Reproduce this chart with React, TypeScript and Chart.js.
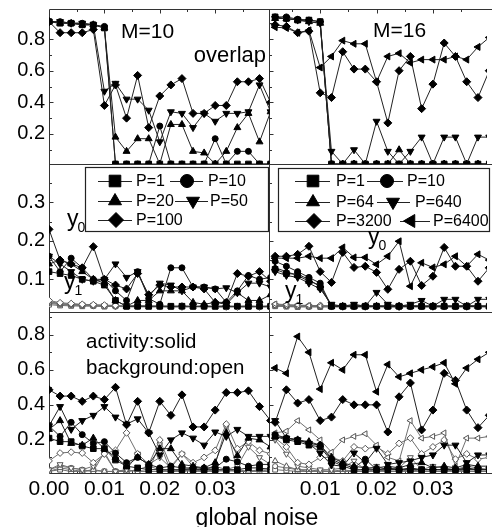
import React, { useEffect, useRef } from 'react';
import { Chart, registerables } from 'chart.js';
import { drawPoint } from 'chart.js/helpers';

Chart.register(...registerables);

// ---------- data ----------
const noiseLeft = [0, 0.002, 0.004, 0.006, 0.008, 0.01, 0.012, 0.014, 0.016, 0.018, 0.02, 0.022, 0.024, 0.026, 0.028, 0.03, 0.032, 0.034, 0.036, 0.038, 0.04];
const noiseRight = [0.002, 0.004, 0.006, 0.008, 0.01, 0.012, 0.014, 0.016, 0.018, 0.02, 0.022, 0.024, 0.026, 0.028, 0.03, 0.032, 0.034, 0.036, 0.038, 0.04];

const labelsM10 = ['P=1', 'P=10', 'P=20', 'P=50', 'P=100'];
const labelsM16 = ['P=1', 'P=10', 'P=64', 'P=640', 'P=3200', 'P=6400'];

const xTicksLeft = [0, 0.01, 0.02, 0.03];
const xTicksRight = [0.01, 0.02, 0.03];
const xMinorTicks = [0.005, 0.015, 0.025, 0.035];
const yTicksTop = [0.2, 0.4, 0.6, 0.8];
const yMinorTop = [0.1, 0.3, 0.5, 0.7, 0.9];
const yTicksMid = [0.1, 0.2, 0.3];
const yMinorMid = [0.05, 0.15, 0.25, 0.35];
const yTicksBot = [0.2, 0.4, 0.6, 0.8];
const yMinorBot = [0.1, 0.3, 0.5, 0.7, 0.9];

// overlap, M=10
const ovM10_P1 = [0.91, 0.90, 0.90, 0.89, 0.89, 0.87, 0.01, 0.01, 0.01, 0.01, 0.01, 0.01, 0.01, 0.01, 0.01, 0.01, 0.01, 0.01, 0.01, 0.01, 0.01];
const ovM10_P10 = [0.91, 0.91, 0.90, 0.90, 0.89, 0.88, 0.01, 0.01, 0.01, 0.01, 0.25, 0.01, 0.01, 0.01, 0.01, 0.17, 0.01, 0.09, 0.09, 0.01, 0.01];
const ovM10_P20 = [0.91, 0.90, 0.90, 0.89, 0.89, 0.87, 0.18, 0.09, 0.17, 0.17, 0.01, 0.26, 0.26, 0.09, 0.08, 0.01, 0.09, 0.24, 0.33, 0.15, 0.34];
const ovM10_P50 = [0.91, 0.91, 0.90, 0.90, 0.89, 0.47, 0.52, 0.42, 0.42, 0.35, 0.15, 0.34, 0.33, 0.24, 0.33, 0.28, 0.33, 0.33, 0.34, 0.51, 0.34];
const ovM10_P100 = [0.91, 0.84, 0.84, 0.84, 0.86, 0.38, 0.51, 0.30, 0.57, 0.24, 0.44, 0.51, 0.55, 0.33, 0.33, 0.38, 0.38, 0.53, 0.53, 0.55, 0.40];

// overlap, M=16
const ovM16_P1 = [0.94, 0.93, 0.92, 0.92, 0.91, 0.01, 0.01, 0.01, 0.01, 0.01, 0.01, 0.01, 0.01, 0.01, 0.01, 0.01, 0.01, 0.01, 0.01, 0.01];
const ovM16_P10 = [0.94, 0.94, 0.925, 0.92, 0.91, 0.01, 0.01, 0.01, 0.01, 0.01, 0.01, 0.01, 0.01, 0.01, 0.01, 0.01, 0.01, 0.01, 0.01, 0.01];
const ovM16_P64 = [0.93, 0.93, 0.92, 0.91, 0.90, 0.01, 0.01, 0.01, 0.01, 0.01, 0.01, 0.10, 0.01, 0.01, 0.01, 0.01, 0.01, 0.01, 0.01, 0.01];
const ovM16_P640 = [0.93, 0.93, 0.92, 0.91, 0.90, 0.09, 0.01, 0.10, 0.01, 0.28, 0.09, 0.01, 0.09, 0.18, 0.01, 0.18, 0.18, 0.01, 0.18, 0.18];
const ovM16_P3200 = [0.89, 0.88, 0.84, 0.85, 0.46, 0.43, 0.72, 0.61, 0.61, 0.53, 0.27, 0.60, 0.69, 0.36, 0.515, 0.775, 0.69, 0.53, 0.43, 0.60];
const ovM16_P6400 = [0.875, 0.87, 0.84, 0.855, 0.62, 0.69, 0.79, 0.77, 0.77, 0.53, 0.69, 0.71, 0.65, 0.67, 0.67, 0.67, 0.69, 0.67, 0.75, 0.81];

// y, M=10 (solid)
const yM10_P1 = [0.12, 0.115, 0.11, 0.10, 0.095, 0.085, 0.045, 0.03, 0.03, 0.03, 0.03, 0.03, 0.03, 0.03, 0.03, 0.03, 0.03, 0.03, 0.03, 0.03, 0.03];
const yM10_P10 = [0.16, 0.12, 0.155, 0.13, 0.10, 0.10, 0.07, 0.045, 0.12, 0.05, 0.035, 0.13, 0.13, 0.08, 0.08, 0.075, 0.04, 0.07, 0.11, 0.10, 0.105];
const yM10_P20 = [0.14, 0.15, 0.14, 0.12, 0.10, 0.09, 0.045, 0.03, 0.045, 0.045, 0.07, 0.07, 0.07, 0.04, 0.035, 0.04, 0.035, 0.065, 0.045, 0.045, 0.06];
const yM10_P50 = [0.16, 0.14, 0.12, 0.10, 0.095, 0.10, 0.14, 0.105, 0.12, 0.055, 0.09, 0.085, 0.07, 0.08, 0.08, 0.075, 0.078, 0.065, 0.09, 0.09, 0.08];
const yM10_P100 = [0.23, 0.15, 0.14, 0.13, 0.185, 0.10, 0.085, 0.075, 0.115, 0.06, 0.085, 0.08, 0.08, 0.08, 0.075, 0.04, 0.04, 0.115, 0.108, 0.12, 0.095];
// y, M=10 (open)
const yM10o_P1 = [0.034, 0.032, 0.031, 0.030, 0.031, 0.029, 0.030, 0.028, 0.029, 0.028, 0.029, 0.028, 0.030, 0.028, 0.029, 0.028, 0.028, 0.029, 0.028, 0.030, 0.028];
const yM10o_P10 = [0.038, 0.034, 0.033, 0.032, 0.030, 0.031, 0.029, 0.030, 0.028, 0.030, 0.028, 0.029, 0.028, 0.030, 0.028, 0.029, 0.030, 0.028, 0.029, 0.028, 0.029];
const yM10o_P20 = [0.040, 0.036, 0.034, 0.033, 0.032, 0.030, 0.031, 0.029, 0.031, 0.028, 0.030, 0.028, 0.029, 0.028, 0.031, 0.028, 0.029, 0.030, 0.028, 0.029, 0.028];
const yM10o_P50 = [0.042, 0.037, 0.035, 0.034, 0.033, 0.032, 0.030, 0.031, 0.030, 0.031, 0.029, 0.031, 0.028, 0.030, 0.029, 0.030, 0.028, 0.029, 0.031, 0.028, 0.030];
const yM10o_P100 = [0.045, 0.039, 0.037, 0.035, 0.034, 0.033, 0.032, 0.030, 0.032, 0.030, 0.031, 0.029, 0.031, 0.029, 0.030, 0.029, 0.031, 0.028, 0.030, 0.029, 0.031];

// y, M=16 (solid)
const yM16_P1 = [0.126, 0.115, 0.113, 0.10, 0.08, 0.03, 0.03, 0.03, 0.03, 0.03, 0.03, 0.03, 0.03, 0.03, 0.03, 0.03, 0.03, 0.03, 0.03, 0.03];
const yM16_P10 = [0.147, 0.134, 0.12, 0.105, 0.09, 0.03, 0.03, 0.03, 0.03, 0.03, 0.03, 0.03, 0.03, 0.03, 0.03, 0.03, 0.03, 0.03, 0.03, 0.03];
const yM16_P64 = [0.13, 0.12, 0.11, 0.095, 0.085, 0.03, 0.03, 0.03, 0.03, 0.03, 0.03, 0.03, 0.03, 0.03, 0.03, 0.03, 0.03, 0.03, 0.03, 0.03];
const yM16_P640 = [0.12, 0.11, 0.105, 0.09, 0.075, 0.035, 0.03, 0.035, 0.03, 0.066, 0.035, 0.03, 0.035, 0.045, 0.03, 0.048, 0.048, 0.03, 0.048, 0.048];
const yM16_P3200 = [0.16, 0.16, 0.165, 0.186, 0.12, 0.092, 0.17, 0.131, 0.134, 0.118, 0.074, 0.126, 0.147, 0.084, 0.108, 0.183, 0.134, 0.134, 0.095, 0.13];
const yM16_P6400 = [0.155, 0.155, 0.155, 0.16, 0.155, 0.155, 0.183, 0.157, 0.157, 0.139, 0.16, 0.199, 0.082, 0.143, 0.131, 0.139, 0.16, 0.134, 0.165, 0.15];
// y, M=16 (open)
const yM16o_P1 = [0.030, 0.029, 0.028, 0.029, 0.028, 0.029, 0.028, 0.029, 0.028, 0.029, 0.028, 0.028, 0.029, 0.028, 0.028, 0.029, 0.028, 0.028, 0.029, 0.028];
const yM16o_P10 = [0.031, 0.030, 0.029, 0.028, 0.029, 0.028, 0.030, 0.028, 0.029, 0.028, 0.029, 0.030, 0.028, 0.029, 0.028, 0.028, 0.029, 0.030, 0.028, 0.029];
const yM16o_P64 = [0.032, 0.031, 0.030, 0.029, 0.030, 0.029, 0.028, 0.030, 0.028, 0.030, 0.028, 0.029, 0.030, 0.028, 0.030, 0.029, 0.028, 0.029, 0.030, 0.028];
const yM16o_P640 = [0.033, 0.032, 0.031, 0.030, 0.029, 0.030, 0.031, 0.029, 0.030, 0.029, 0.030, 0.028, 0.029, 0.031, 0.029, 0.030, 0.029, 0.031, 0.029, 0.030];
const yM16o_P3200 = [0.034, 0.033, 0.032, 0.031, 0.032, 0.030, 0.029, 0.031, 0.029, 0.031, 0.029, 0.031, 0.030, 0.029, 0.031, 0.029, 0.031, 0.029, 0.030, 0.031];
const yM16o_P6400 = [0.036, 0.034, 0.033, 0.032, 0.031, 0.032, 0.030, 0.031, 0.032, 0.030, 0.031, 0.030, 0.032, 0.030, 0.030, 0.031, 0.030, 0.032, 0.031, 0.030];

// activity (solid) / background (open), M=10
const actM10_P1 = [0.21, 0.19, 0.19, 0.165, 0.15, 0.15, 0.085, 0.05, 0.04, 0.03, 0.03, 0.03, 0.03, 0.03, 0.03, 0.03, 0.03, 0.03, 0.04, 0.04, 0.03];
const actM10_P10 = [0.28, 0.22, 0.30, 0.23, 0.18, 0.19, 0.125, 0.07, 0.10, 0.06, 0.04, 0.05, 0.04, 0.04, 0.04, 0.04, 0.09, 0.075, 0.05, 0.06, 0.06];
const actM10_P20 = [0.26, 0.31, 0.18, 0.17, 0.21, 0.15, 0.10, 0.05, 0.10, 0.06, 0.15, 0.15, 0.06, 0.05, 0.04, 0.07, 0.24, 0.11, 0.21, 0.20, 0.16];
const actM10_P50 = [0.28, 0.39, 0.26, 0.31, 0.34, 0.39, 0.33, 0.29, 0.32, 0.24, 0.114, 0.20, 0.24, 0.21, 0.17, 0.245, 0.22, 0.26, 0.22, 0.22, 0.22];
const actM10_P100 = [0.486, 0.45, 0.45, 0.42, 0.45, 0.43, 0.50, 0.286, 0.42, 0.24, 0.42, 0.34, 0.457, 0.274, 0.274, 0.37, 0.47, 0.47, 0.48, 0.39, 0.31];
const bgM10_P1 = [0.02, 0.03, 0.02, 0.02, 0.025, 0.02, 0.02, 0.02, 0.025, 0.02, 0.02, 0.02, 0.025, 0.02, 0.02, 0.02, 0.025, 0.02, 0.02, 0.02, 0.02];
const bgM10_P10 = [0.03, 0.05, 0.04, 0.03, 0.02, 0.13, 0.02, 0.03, 0.02, 0.02, 0.18, 0.02, 0.02, 0.03, 0.02, 0.06, 0.28, 0.02, 0.02, 0.03, 0.02];
const bgM10_P20 = [0.02, 0.04, 0.03, 0.02, 0.03, 0.02, 0.02, 0.02, 0.03, 0.05, 0.03, 0.02, 0.03, 0.04, 0.02, 0.03, 0.02, 0.03, 0.02, 0.03, 0.04];
const bgM10_P50 = [0.03, 0.06, 0.04, 0.03, 0.05, 0.12, 0.02, 0.03, 0.12, 0.06, 0.10, 0.04, 0.12, 0.05, 0.03, 0.05, 0.03, 0.05, 0.16, 0.10, 0.06];
const bgM10_P100 = [0.08, 0.125, 0.13, 0.125, 0.07, 0.12, 0.14, 0.24, 0.12, 0.06, 0.20, 0.05, 0.12, 0.07, 0.10, 0.14, 0.29, 0.15, 0.19, 0.14, 0.12];

// activity (solid) / background (open), M=16
const actM16_P1 = [0.22, 0.20, 0.19, 0.17, 0.16, 0.08, 0.05, 0.03, 0.03, 0.03, 0.03, 0.03, 0.03, 0.03, 0.03, 0.03, 0.03, 0.03, 0.03, 0.03];
const actM16_P10 = [0.23, 0.21, 0.20, 0.18, 0.17, 0.09, 0.06, 0.04, 0.09, 0.03, 0.04, 0.03, 0.04, 0.03, 0.03, 0.03, 0.03, 0.04, 0.03, 0.03];
const actM16_P64 = [0.22, 0.21, 0.20, 0.19, 0.17, 0.10, 0.07, 0.05, 0.04, 0.04, 0.05, 0.04, 0.06, 0.07, 0.04, 0.05, 0.04, 0.06, 0.05, 0.05];
const actM16_P640 = [0.31, 0.21, 0.20, 0.18, 0.125, 0.057, 0.05, 0.125, 0.07, 0.152, 0.06, 0.07, 0.08, 0.10, 0.114, 0.17, 0.17, 0.07, 0.114, 0.114];
const actM16_P3200 = [0.30, 0.486, 0.41, 0.43, 0.31, 0.33, 0.43, 0.40, 0.40, 0.40, 0.245, 0.446, 0.525, 0.257, 0.37, 0.58, 0.54, 0.37, 0.27, 0.34];
const actM16_P6400 = [0.61, 0.58, 0.79, 0.70, 0.49, 0.64, 0.60, 0.686, 0.686, 0.475, 0.63, 0.56, 0.58, 0.60, 0.617, 0.64, 0.52, 0.61, 0.66, 0.70];
const bgM16_P1 = [0.03, 0.025, 0.02, 0.02, 0.02, 0.02, 0.02, 0.02, 0.02, 0.02, 0.02, 0.02, 0.02, 0.02, 0.02, 0.02, 0.02, 0.02, 0.02, 0.02];
const bgM16_P10 = [0.05, 0.04, 0.03, 0.02, 0.025, 0.02, 0.02, 0.025, 0.02, 0.02, 0.03, 0.03, 0.03, 0.03, 0.03, 0.03, 0.03, 0.03, 0.03, 0.03];
const bgM16_P64 = [0.08, 0.05, 0.03, 0.03, 0.02, 0.02, 0.03, 0.02, 0.02, 0.03, 0.02, 0.02, 0.03, 0.02, 0.02, 0.02, 0.03, 0.02, 0.02, 0.02];
const bgM16_P640 = [0.20, 0.12, 0.05, 0.04, 0.03, 0.03, 0.04, 0.08, 0.03, 0.05, 0.03, 0.04, 0.10, 0.03, 0.05, 0.04, 0.03, 0.05, 0.04, 0.03];
const bgM16_P3200 = [0.21, 0.16, 0.07, 0.06, 0.10, 0.10, 0.08, 0.16, 0.15, 0.16, 0.12, 0.18, 0.21, 0.12, 0.16, 0.20, 0.09, 0.12, 0.09, 0.10];
const bgM16_P6400 = [0.24, 0.25, 0.31, 0.257, 0.20, 0.13, 0.20, 0.22, 0.235, 0.17, 0.10, 0.08, 0.31, 0.21, 0.22, 0.24, 0.05, 0.21, 0.21, 0.22];

// ---------- styles ----------
const FONT = '"Liberation Sans", Arial, Helvetica, sans-serif';
const MARKERS = [
  { style: 'rect', rot: 0, r: 4.0 },
  { style: 'circle', rot: 0, r: 3.0 },
  { style: 'triangle', rot: 0, r: 4.0 },
  { style: 'triangle', rot: 180, r: 4.0 },
  { style: 'rectRot', rot: 0, r: 4.0 },
  { style: 'triangle', rot: -90, r: 4.0 },
];

function makeSet(label: string, xs: number[], ys: number[], xAxisID: string, yAxisID: string, mi: number, open: boolean) {
  const m = MARKERS[mi];
  return {
    label,
    xAxisID,
    yAxisID,
    data: xs.map((x, i) => ({ x, y: ys[i] })),
    borderColor: open ? '#707070' : '#222',
    borderWidth: 1,
    pointStyle: m.style,
    pointRotation: m.rot,
    pointRadius: open ? m.r * 0.85 : m.r,
    pointBackgroundColor: open ? '#fff' : '#000',
    pointBorderColor: open ? '#555' : '#000',
    pointBorderWidth: 1,
    tension: 0,
    fill: false,
  };
}

function buildDatasets() {
  const sets: any[] = [];
  const add = (labels: string[], series: number[][], xs: number[], xa: string, ya: string, open: boolean) => {
    series.forEach((s, k) => sets.push(makeSet(labels[k], xs, s, xa, ya, k, open)));
  };
  add(labelsM10, [ovM10_P1, ovM10_P10, ovM10_P20, ovM10_P50, ovM10_P100], noiseLeft, 'xL', 'yT', false);
  add(labelsM16, [ovM16_P1, ovM16_P10, ovM16_P64, ovM16_P640, ovM16_P3200, ovM16_P6400], noiseRight, 'xR', 'yT', false);
  add(labelsM10, [yM10o_P1, yM10o_P10, yM10o_P20, yM10o_P50, yM10o_P100], noiseLeft, 'xL', 'yM', true);
  add(labelsM10, [yM10_P1, yM10_P10, yM10_P20, yM10_P50, yM10_P100], noiseLeft, 'xL', 'yM', false);
  add(labelsM16, [yM16o_P1, yM16o_P10, yM16o_P64, yM16o_P640, yM16o_P3200, yM16o_P6400], noiseRight, 'xR', 'yM', true);
  add(labelsM16, [yM16_P1, yM16_P10, yM16_P64, yM16_P640, yM16_P3200, yM16_P6400], noiseRight, 'xR', 'yM', false);
  add(labelsM10, [bgM10_P1, bgM10_P10, bgM10_P20, bgM10_P50, bgM10_P100], noiseLeft, 'xL', 'yB', true);
  add(labelsM10, [actM10_P1, actM10_P10, actM10_P20, actM10_P50, actM10_P100], noiseLeft, 'xL', 'yB', false);
  add(labelsM16, [bgM16_P1, bgM16_P10, bgM16_P64, bgM16_P640, bgM16_P3200, bgM16_P6400], noiseRight, 'xR', 'yB', true);
  add(labelsM16, [actM16_P1, actM16_P10, actM16_P64, actM16_P640, actM16_P3200, actM16_P6400], noiseRight, 'xR', 'yB', false);
  return sets.reverse();
}

const legendLeft = {
  box: [85, 167, 268, 231],
  items: [
    { row: 181, l0: 98, l1: 132, m: 115, t: 136 },
    { row: 181, l0: 170, l1: 203, m: 187, t: 208 },
    { row: 201, l0: 98, l1: 132, m: 115, t: 136 },
    { row: 201, l0: 175, l1: 208, m: 193, t: 210 },
    { row: 220, l0: 98, l1: 132, m: 116, t: 136 },
  ],
};
const legendRight = {
  box: [278, 168, 489, 231],
  items: [
    { row: 181, l0: 295, l1: 330, m: 313, t: 336 },
    { row: 181, l0: 367, l1: 403, m: 387, t: 407 },
    { row: 202, l0: 295, l1: 330, m: 313, t: 336 },
    { row: 202, l0: 377, l1: 410, m: 393, t: 415 },
    { row: 221, l0: 295, l1: 330, m: 314, t: 336 },
    { row: 221, l0: 400, l1: 430, m: 411, t: 433 },
  ],
};
const LEGEND_R = [8.2, 6.5, 7.5, 7.5, 7.5, 7.5];

const decorPlugin = {
  id: 'decor',
  beforeDatasetsDraw(chart: any) {
    const ctx = chart.ctx;
    const { xL, xR, yT, yM, yB } = chart.scales;
    const L = Math.round(xL.left) + 0.5;
    const D = Math.round(xR.left) + 0.5;
    const R = chart.width + 2;
    const T = Math.round(yT.top) + 0.5;
    const B = Math.round(yB.bottom) + 0.5;
    ctx.save();
    ctx.strokeStyle = '#333';
    ctx.lineWidth = 1;
    const seg = (x0: number, y0: number, x1: number, y1: number) => {
      ctx.beginPath();
      ctx.moveTo(x0, y0);
      ctx.lineTo(x1, y1);
      ctx.stroke();
    };
    seg(L, T, L, B);
    seg(D, T, D, B);
    seg(L, T, R, T);
    seg(L, B, R, B);
    seg(L, Math.round(yT.bottom) + 0.5, R, Math.round(yT.bottom) + 0.5);
    seg(L, Math.round(yM.bottom) + 0.5, R, Math.round(yM.bottom) + 0.5);
    const yTicks: [any, number[], number[]][] = [
      [yT, yTicksTop, yMinorTop],
      [yM, yTicksMid, yMinorMid],
      [yB, yTicksBot, yMinorBot],
    ];
    for (const [sc, maj, min] of yTicks) {
      for (const x0 of [L, D]) {
        maj.forEach((v) => { const y = Math.round(sc.getPixelForValue(v)) + 0.5; seg(x0, y, x0 + 4, y); });
        min.forEach((v) => { const y = Math.round(sc.getPixelForValue(v)) + 0.5; seg(x0, y, x0 + 2.5, y); });
      }
    }
    const xTickSets: [any, number[]][] = [[xL, [0.01, 0.02, 0.03]], [xR, [0.01, 0.02, 0.03]]];
    for (const [sc, maj] of xTickSets) {
      maj.forEach((v) => {
        const x = Math.round(sc.getPixelForValue(v)) + 0.5;
        seg(x, T, x, T + 4);
        seg(x, B, x, B - 4);
      });
      xMinorTicks.forEach((v) => {
        const x = Math.round(sc.getPixelForValue(v)) + 0.5;
        if (x > sc.left + 2 && x < sc.right - 2) {
          seg(x, T, x, T + 2.5);
          seg(x, B, x, B - 2.5);
        }
      });
    }
    ctx.restore();
  },
  afterDatasetsDraw(chart: any) {
    const ctx = chart.ctx;
    ctx.save();
    const drawLegend = (lg: any, labels: string[]) => {
      const [x0, y0, x1, y1] = lg.box;
      ctx.fillStyle = '#fff';
      ctx.fillRect(x0, y0, x1 - x0, y1 - y0);
      ctx.strokeStyle = '#222';
      ctx.lineWidth = 1.2;
      ctx.strokeRect(x0 + 0.5, y0 + 0.5, x1 - x0, y1 - y0);
      lg.items.forEach((it: any, k: number) => {
        ctx.strokeStyle = '#222';
        ctx.lineWidth = 1;
        ctx.beginPath();
        ctx.moveTo(it.l0, it.row + 0.5);
        ctx.lineTo(it.l1, it.row + 0.5);
        ctx.stroke();
        const m = MARKERS[k];
        ctx.fillStyle = '#000';
        ctx.strokeStyle = '#000';
        drawPoint(ctx, { pointStyle: m.style, rotation: m.rot, radius: LEGEND_R[k], borderWidth: 1 } as any, it.m, it.row);
        ctx.fillStyle = '#000';
        ctx.font = `16px ${FONT}`;
        ctx.textBaseline = 'middle';
        ctx.textAlign = 'left';
        ctx.fillText(labels[k], it.t, it.row + 1);
      });
    };
    drawLegend(legendLeft, labelsM10);
    drawLegend(legendRight, labelsM16);

    ctx.fillStyle = '#000';
    ctx.textBaseline = 'alphabetic';
    ctx.textAlign = 'left';
    ctx.font = `21px ${FONT}`;
    ctx.fillText('M=10', 121, 38);
    ctx.fillText('M=16', 373, 37);
    ctx.textAlign = 'right';
    ctx.font = `22px ${FONT}`;
    ctx.fillText('overlap', 266, 62);
    ctx.textAlign = 'left';
    ctx.font = `20.5px ${FONT}`;
    ctx.fillText('activity:solid', 86, 348);
    ctx.fillText('background:open', 86, 374);
    const sub = (x: number, y: number, s: string) => {
      ctx.font = `23px ${FONT}`;
      ctx.fillText('y', x, y);
      const w = ctx.measureText('y').width;
      ctx.font = `14px ${FONT}`;
      ctx.fillText(s, x + w - 1, y + 6);
    };
    sub(67, 226, '0');
    sub(64, 289, '1');
    sub(368, 244, '0');
    sub(285, 298, '1');
    ctx.font = `23px ${FONT}`;
    ctx.textAlign = 'center';
    ctx.fillText('global noise', 257, 525);
    ctx.restore();
  },
};

function zeroPad(s: any) {
  s.paddingLeft = 0;
  s.paddingRight = 0;
  s.paddingTop = 0;
  s.paddingBottom = 0;
}

function xScale(min: number, max: number, weight: number, ticks: number[]) {
  return {
    type: 'linear',
    axis: 'x',
    position: 'bottom',
    stack: 'noise',
    stackWeight: weight,
    min,
    max,
    grid: { display: false, drawTicks: false },
    border: { display: false },
    ticks: {
      autoSkip: false,
      maxRotation: 0,
      padding: 4,
      color: '#000',
      font: { family: FONT, size: 21 },
      callback: (v: any) => Number(v).toFixed(2),
    },
    afterBuildTicks: (s: any) => { s.ticks = ticks.map((v) => ({ value: v })); },
    afterFit: (s: any) => { s.height = 54; zeroPad(s); },
  };
}
function yScale(min: number, max: number, weight: number, ticks: number[]) {
  return {
    type: 'linear',
    axis: 'y',
    position: 'left',
    stack: 'rows',
    stackWeight: weight,
    min,
    max,
    grid: { display: false, drawTicks: false },
    border: { display: false },
    ticks: {
      autoSkip: false,
      padding: 4,
      color: '#000',
      font: { family: FONT, size: 20 },
      callback: (v: any) => Number(v).toFixed(1),
    },
    afterBuildTicks: (s: any) => { s.ticks = ticks.map((v) => ({ value: v })); },
    afterFit: (s: any) => { s.width = 49; zeroPad(s); },
  };
}

export default function App() {
  const ref = useRef<HTMLCanvasElement | null>(null);
  useEffect(() => {
    if (!ref.current) return;
    const chart = new Chart(ref.current, {
      type: 'line',
      data: { datasets: buildDatasets() },
      options: {
        animation: false,
        responsive: false,
        maintainAspectRatio: false,
        parsing: false as any,
        normalized: true,
        layout: { padding: { top: 9, left: 0, right: 0, bottom: 0 } },
        plugins: { legend: { display: false }, tooltip: { enabled: false }, title: { display: false } },
        scales: {
          xL: xScale(0, 0.0398, 223, xTicksLeft),
          xR: xScale(0.001, 0.0396, 220, xTicksRight),
          yB: yScale(0.011, 0.93, 161, yTicksBot),
          yM: yScale(0.015, 0.40, 148, yTicksMid),
          yT: yScale(0.01, 0.99, 155, yTicksTop),
        } as any,
      },
      plugins: [decorPlugin],
    } as any);
    return () => chart.destroy();
  }, []);
  return (
    <div style={{ position: 'absolute', left: 0, top: 0, width: 492, height: 527, background: '#fff', overflow: 'hidden' }}>
      <canvas ref={ref} width={492} height={527} style={{ display: 'block', width: 492, height: 527 }} />
    </div>
  );
}
